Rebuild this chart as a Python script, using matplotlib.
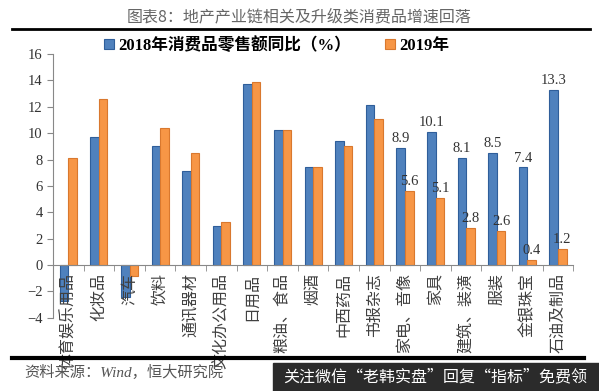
import matplotlib.pyplot as plt
import matplotlib.patches as mpatches
import numpy as np

plt.rcParams['font.family'] = ['Liberation Serif', 'Noto Sans CJK SC']

# 数据
categories = ['体育娱乐用品', '化妆品', '汽车', '饮料', '通讯器材', '文化办公用品', '日用品',
              '粮油、食品', '烟酒', '中西药品', '书报杂志', '家电、音像', '家具', '建筑、装潢',
              '服装', '金银珠宝', '石油及制品']
v2018 = [-2.7, 9.7, -2.4, 9.0, 7.1, 3.0, 13.7, 10.2, 7.4, 9.4, 12.1, 8.9, 10.1, 8.1, 8.5, 7.4, 13.3]
v2019 = [8.1, 12.6, -0.8, 10.4, 8.5, 3.3, 13.9, 10.2, 7.4, 9.0, 11.1, 5.6, 5.1, 2.8, 2.6, 0.4, 1.2]
first_labeled = 11  # 从家电、音像开始标数值

blue = '#4F81BD'
orange = '#F79646'

fig = plt.figure(figsize=(5.99, 3.91), dpi=100)
ax = fig.add_axes([0.0885, 0.187, 0.957 - 0.0885, 0.862 - 0.187])

x = np.arange(len(categories))
w = 0.28
b1 = ax.bar(x - w / 2, v2018, w, color=blue, edgecolor='#2F5E9A', linewidth=0.8,
            label='2018年消费品零售额同比（%）')
b2 = ax.bar(x + w / 2, v2019, w, color=orange, edgecolor='#D9782E', linewidth=0.8,
            label='2019年')

lab1 = ['' if i < first_labeled else f'{v:.1f}' for i, v in enumerate(v2018)]
lab2 = ['' if i < first_labeled else f'{v:.1f}' for i, v in enumerate(v2019)]
ax.bar_label(b1, labels=lab1, padding=2, fontsize=10.5, color='#333333')
ax.bar_label(b2, labels=lab2, padding=2, fontsize=10.5, color='#333333')

ax.set_xlim(-0.5, len(categories) - 0.5)
ax.set_ylim(-4, 16)
ax.set_yticks(range(-4, 17, 2))
ax.tick_params(axis='y', labelsize=10.5, labelcolor='#333333', color='#888888', length=4)

ax.spines['top'].set_visible(False)
ax.spines['right'].set_visible(False)
ax.spines['left'].set_color('#888888')
ax.spines['bottom'].set_color('#888888')
ax.spines['bottom'].set_position(('data', 0))

ax.set_xticks(x)
ax.set_xticklabels(categories, rotation=90, fontsize=11.5, color='#404040',
                   family=['Noto Sans CJK SC'])
ax.tick_params(axis='x', which='major', length=0, pad=6)
ax.set_xticks(np.arange(-0.5, len(categories), 1), minor=True)
ax.tick_params(axis='x', which='minor', length=4, color='#888888')

leg = ax.legend(loc='lower left', bbox_to_anchor=(0.148, 0.824), bbox_transform=fig.transFigure,
                ncol=2, frameon=False, handlelength=0.6, handleheight=0.6, handletextpad=0.3,
                columnspacing=2.0, prop={'size': 12, 'weight': 'bold'})

# 标题与分隔线
fig.text(0.5, 0.958, '图表8：地产产业链相关及升级类消费品增速回落', ha='center', va='center',
         fontsize=11.5, color='#666666', family=['Noto Sans CJK SC'])
fig.add_artist(plt.Line2D([0.02, 0.985], [0.925, 0.925], color='black', lw=2))
fig.add_artist(plt.Line2D([0.02, 0.975], [0.085, 0.085], color='black', lw=3))
fig.text(0.04, 0.048, '资料来源：Wind，恒大研究院', ha='left', va='center', fontsize=11,
         color='#555555', style='italic')

# 底部水印条
fig.add_artist(mpatches.Rectangle((273 / 599, 0), 1 - 273 / 599, 28 / 391,
                                  transform=fig.transFigure, color='#2B2B2B'))
fig.text(0.472, 0.036, '关注微信“老韩实盘”回复“指标”免费领', ha='left', va='center',
         fontsize=11.5, color='white', family=['Noto Sans CJK SC'])

fig.savefig('out.png', dpi=100)
